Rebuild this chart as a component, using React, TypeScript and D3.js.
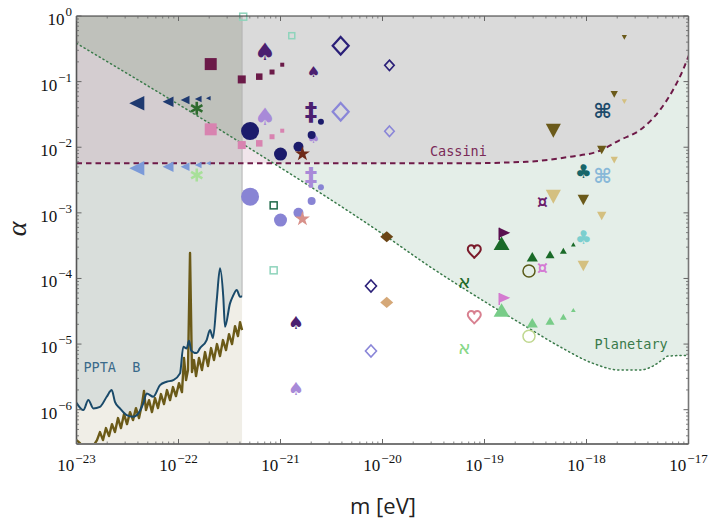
import React from "react";
import * as d3 from "d3";

// ================= DATA =================
// axis ticks (exponents of 10)
const xTickExps = [-23, -22, -21, -20, -19, -18, -17];
const yTickExps = [0, -1, -2, -3, -4, -5, -6];

// curves, stored as [log10(m / eV), log10(alpha)]
const planetaryLog: [number, number][] = [
  [-23, -0.416], [-21.38, -1.941], [-19.959, -3.364], [-19.534, -3.822], [-19.211, -4.146],
  [-18.917, -4.431], [-18.564, -4.761], [-18.26, -5.041], [-17.936, -5.294], [-17.672, -5.396],
  [-17.476, -5.396], [-17.348, -5.335], [-17.25, -5.233], [-17.201, -5.183], [-16.992, -5.172], [-16.9, -5.172],
];
const cassiniLog: [number, number][] = [
  [-23, -2.245], [-19.24, -2.245], [-18.586, -2.221], [-18.162, -2.145], [-17.868, -2.053],
  [-17.672, -1.89], [-17.476, -1.738], [-17.28, -1.433], [-17.152, -1.128], [-17.054, -0.823],
  [-16.995, -0.595], [-16.95, -0.4],
];
const pptaLog: [number, number][] = [
  [-23.0, -5.895], [-22.933, -6.006], [-22.884, -5.854], [-22.835, -5.98], [-22.77, -5.956],
  [-22.704, -5.803], [-22.655, -5.701], [-22.623, -5.88], [-22.574, -5.98], [-22.508, -6.082],
  [-22.443, -6.108], [-22.394, -6.056], [-22.345, -5.904], [-22.312, -5.752], [-22.247, -5.803],
  [-22.181, -5.625], [-22.116, -5.575], [-22.051, -5.549], [-21.985, -5.447], [-21.953, -5.041],
  [-21.92, -5.066], [-21.897, -4.95], [-21.875, -5.1], [-21.822, -5.137], [-21.789, -5.061],
  [-21.724, -4.939], [-21.691, -4.787], [-21.662, -4.909], [-21.625, -4.329], [-21.593, -3.846],
  [-21.561, -4.279], [-21.544, -4.736], [-21.495, -4.38], [-21.466, -4.268], [-21.429, -4.177],
  [-21.397, -4.279], [-21.377, -4.268],
];
const brownLog: [number, number][] = [
  [-23.0, -6.463], [-22.966, -6.509], [-22.917, -6.616], [-22.848, -6.585], [-22.799, -6.463],
  [-22.77, -6.341], [-22.74, -6.463], [-22.711, -6.28], [-22.681, -6.402], [-22.652, -6.22],
  [-22.623, -6.341], [-22.593, -6.128], [-22.564, -6.28], [-22.534, -6.067], [-22.505, -6.22],
  [-22.475, -6.037], [-22.446, -6.159], [-22.417, -5.976], [-22.387, -6.128], [-22.358, -5.915],
  [-22.338, -5.716], [-22.319, -6.006], [-22.289, -5.854], [-22.26, -6.037], [-22.23, -5.823],
  [-22.201, -5.976], [-22.172, -5.762], [-22.142, -5.915], [-22.113, -5.701], [-22.083, -5.854],
  [-22.054, -5.655], [-22.025, -5.793], [-21.995, -5.595], [-21.966, -5.732], [-21.946, -5.213],
  [-21.926, -5.549], [-21.907, -5.396], [-21.887, -3.613], [-21.868, -5.427], [-21.848, -5.244],
  [-21.828, -5.488], [-21.799, -5.213], [-21.77, -5.396], [-21.74, -5.122], [-21.711, -5.335],
  [-21.681, -5.061], [-21.652, -5.244], [-21.623, -5.0], [-21.593, -5.183], [-21.564, -4.939],
  [-21.534, -5.091], [-21.505, -4.848], [-21.475, -5.0], [-21.446, -4.726], [-21.417, -4.878],
  [-21.397, -4.665], [-21.377, -4.787],
];

// markers: masses (eV) and couplings; "dark" = upper series, "light" = lower series
const triLeftM = [3.9e-23, 7.9e-23, 1.16e-22, 1.56e-22, 1.96e-22];
const triLeftDark = [0.0467, 0.0494, 0.0524, 0.0543, 0.0556];
const triLeftLight = [0.00477, 0.00504, 0.00504, 0.00535, 0.00569];

const asteriskM = [1.51e-22];
const asteriskDark = [0.0392];
const asteriskLight = [0.00377];

const squareM = [2.07e-22, 4.17e-22, 6.19e-22, 8.26e-22, 1.04e-21];
const squareDark = [0.185, 0.108, 0.119, 0.14, 0.181];
const squareLight = [0.01875, 0.0108, 0.01146, 0.01445, 0.01786];

const circleM = [5.03e-22, 1.0e-21, 1.5e-21, 2.02e-21, 2.49e-21];
const circleDark = [0.01766, 0.00787, 0.01018, 0.01535, 0.0245];
const circleLight = [0.00176, 0.000776, 0.001, 0.00151, 0.00245];

const spadeM = [7.05e-22, 2.1e-21, 1.41e-21];
const spadeDark = [0.2856, 0.1416, 2.11e-5];
const spadeLight = [0.0292, 0.01396, 2.08e-6];

const daggerM = [1.99e-21];
const daggerDark = [0.0348];
const daggerLight = [0.00355];

const starM = [1.64e-21];
const starDark = [0.00807];
const starLight = [0.000824];

const openSqDarkM = [8.57e-22];
const openSqDark = [0.0013];
const openSqLightM = [4.31e-22, 1.29e-21, 8.57e-22];
const openSqLight = [0.976, 0.501, 0.000133];

const openDiaM = [3.89e-21, 1.17e-20, 7.71e-21];
const openDiaDark = [0.352, 0.177, 7.66e-5];
const openDiaLight = [0.0348, 0.0175, 7.82e-6];

const diaM = [1.1e-20];
const diaDark = [4.32e-4];
const diaLight = [4.32e-5];

const heartM = [7.94e-20];
const heartDark = [2.55e-4];
const heartLight = [2.55e-5];

const alephM = [6.34e-20];
const alephDark = [9.12e-5];
const alephLight = [9.1e-6];

const triDownM = [4.73e-19, 9.31e-19, 1.41e-18, 1.87e-18, 2.35e-18];
const triDownDark = [0.01786, 0.00157, 0.00906, 0.064, 0.473];
const triDownLight = [0.00176, 0.000155, 0.000894, 0.00638, 0.0494];

const cmdM = [1.44e-18];
const cmdDark = [0.036];
const cmdLight = [0.00364];

const clubM = [9.31e-19];
const clubDark = [0.00438];
const clubLight = [0.000432];

const currM = [3.69e-19];
const currDark = [0.00148];
const currLight = [0.000143];

const flagM = [1.56e-19];
const flagDark = [4.87e-4];
const flagLight = [4.97e-5];

const triUpM = [1.47e-19, 2.94e-19, 4.39e-19, 5.93e-19, 7.43e-19];
const triUpDark = [3.43e-4, 2.14e-4, 2.33e-4, 2.64e-4, 3.31e-4];
const triUpLight = [3.3e-5, 2.11e-5, 2.26e-5, 2.61e-5, 3.3e-5];

const openCircM = [2.73e-19];
const openCircDark = [1.3e-4];
const openCircLight = [1.32e-5];

// region boundary of PPTA band (mass)
const pptaEdgeM = 4.2e-22;

// ================= LAYOUT / STYLE =================
const W = 713, H = 519;
const PL = 76.5, PR = 688.5, PT = 16, PB = 444;
const x = d3.scaleLog().domain([1e-23, 1e-17]).range([PL, PR]);
const y = d3.scaleLog().domain([3e-7, 1]).range([PB, PT]);
const P = (lm: number, la: number): [number, number] => [x(Math.pow(10, lm)), y(Math.pow(10, la))];

type Shape =
  | "triLeft" | "triDown" | "triUp" | "square" | "openSquare" | "circle" | "openCircle"
  | "openDiamond" | "diamond" | "star" | "asterisk" | "flag" | "heart" | "glyph";

interface Series {
  shape: Shape;
  m: number[];
  a: number[];
  sizes: number[];
  color: string;
  glyph?: string;
  bold?: boolean;
}

const series: Series[] = [
  { shape: "triLeft", m: triLeftM, a: triLeftDark, sizes: [14.5, 10.5, 8.5, 6.5, 4.5], color: "#1f3a70" },
  { shape: "triLeft", m: triLeftM, a: triLeftLight, sizes: [14.5, 10.5, 8.5, 6.5, 4.5], color: "#7b9ad8" },
  { shape: "asterisk", m: asteriskM, a: asteriskDark, sizes: [13], color: "#2e6b2e" },
  { shape: "asterisk", m: asteriskM, a: asteriskLight, sizes: [13], color: "#a8e09a" },
  { shape: "square", m: squareM, a: squareDark, sizes: [12, 8, 6.5, 5, 4], color: "#6b1a48" },
  { shape: "square", m: squareM, a: squareLight, sizes: [12, 8, 6.5, 5, 4], color: "#d883b0" },
  { shape: "openSquare", m: openSqDarkM, a: openSqDark, sizes: [7], color: "#1f6a4a" },
  { shape: "openSquare", m: openSqLightM, a: openSqLight, sizes: [7, 6, 7], color: "#8fd4bc" },
  { shape: "glyph", glyph: "\u2660", m: spadeM, a: spadeDark, sizes: [24, 15, 18], color: "#4b1f70" },
  { shape: "glyph", glyph: "\u2660", m: spadeM, a: spadeLight, sizes: [24, 15, 18], color: "#a88ad8" },
  { shape: "circle", m: circleM, a: circleDark, sizes: [9, 6.5, 5, 4, 3], color: "#1b1b6b" },
  { shape: "circle", m: circleM, a: circleLight, sizes: [9, 6.5, 5, 4, 3], color: "#8884d4" },
  { shape: "glyph", glyph: "\u2021", m: daggerM, a: daggerDark, sizes: [25], color: "#4b1f70", bold: true },
  { shape: "glyph", glyph: "\u2021", m: daggerM, a: daggerLight, sizes: [25], color: "#a88ad8", bold: true },
  { shape: "star", m: starM, a: starDark, sizes: [15], color: "#6e2a18" },
  { shape: "star", m: starM, a: starLight, sizes: [15], color: "#d8918a" },
  { shape: "openDiamond", m: openDiaM, a: openDiaDark, sizes: [16, 9.5, 11], color: "#2a1f78" },
  { shape: "openDiamond", m: openDiaM, a: openDiaLight, sizes: [16, 9.5, 11], color: "#8a86d8" },
  { shape: "diamond", m: diaM, a: diaDark, sizes: [13], color: "#6b4516" },
  { shape: "diamond", m: diaM, a: diaLight, sizes: [13], color: "#d5a878" },
  { shape: "heart", m: heartM, a: heartDark, sizes: [13], color: "#7a1a2a" },
  { shape: "heart", m: heartM, a: heartLight, sizes: [13], color: "#d88090" },
  { shape: "glyph", glyph: "\u05D0", m: alephM, a: alephDark, sizes: [19], color: "#1f6a28" },
  { shape: "glyph", glyph: "\u05D0", m: alephM, a: alephLight, sizes: [19], color: "#88d888" },
  { shape: "triDown", m: triDownM, a: triDownDark, sizes: [14.5, 11, 9, 7, 5], color: "#6b5a1a" },
  { shape: "triDown", m: triDownM, a: triDownLight, sizes: [14.5, 11, 9, 7, 5], color: "#d4c080" },
  { shape: "glyph", glyph: "\u2318", m: cmdM, a: cmdDark, sizes: [20], color: "#1d4a6b", bold: true },
  { shape: "glyph", glyph: "\u2318", m: cmdM, a: cmdLight, sizes: [20], color: "#88b8d8", bold: true },
  { shape: "glyph", glyph: "\u2663", m: clubM, a: clubDark, sizes: [19], color: "#17666a" },
  { shape: "glyph", glyph: "\u2663", m: clubM, a: clubLight, sizes: [19], color: "#7ccfcf" },
  { shape: "glyph", glyph: "\u00A4", m: currM, a: currDark, sizes: [17], color: "#6a1a6a", bold: true },
  { shape: "glyph", glyph: "\u00A4", m: currM, a: currLight, sizes: [17], color: "#d47ad4", bold: true },
  { shape: "triUp", m: triUpM, a: triUpDark, sizes: [15, 10.5, 8.5, 6.5, 4.5], color: "#1a6a28" },
  { shape: "triUp", m: triUpM, a: triUpLight, sizes: [15, 10.5, 8.5, 6.5, 4.5], color: "#78cc88" },
  { shape: "flag", m: flagM, a: flagDark, sizes: [11], color: "#5a1050" },
  { shape: "flag", m: flagM, a: flagLight, sizes: [11], color: "#d47ad0" },
  { shape: "openCircle", m: openCircM, a: openCircDark, sizes: [6], color: "#5a5a18" },
  { shape: "openCircle", m: openCircM, a: openCircLight, sizes: [6], color: "#c0d890" },
];

function heartPath(cx: number, cy: number, s: number) {
  const p = (u: number, v: number) => `${cx + u * s},${cy + v * s}`;
  return `M${p(0, 0.47)}C${p(-0.12, 0.3)} ${p(-0.5, 0.05)} ${p(-0.5, -0.2)}C${p(-0.5, -0.4)} ${p(-0.35, -0.5)} ${p(-0.24, -0.5)}` +
    `C${p(-0.1, -0.5)} ${p(0, -0.4)} ${p(0, -0.28)}C${p(0, -0.4)} ${p(0.1, -0.5)} ${p(0.24, -0.5)}` +
    `C${p(0.35, -0.5)} ${p(0.5, -0.4)} ${p(0.5, -0.2)}C${p(0.5, 0.05)} ${p(0.12, 0.3)} ${p(0, 0.47)}Z`;
}

function marker(s: Series, cx: number, cy: number, sz: number, key: string) {
  const c = s.color;
  switch (s.shape) {
    case "triLeft":
      return <path key={key} d={`M${cx - 0.52 * sz},${cy}L${cx + 0.52 * sz},${cy - 0.5 * sz}L${cx + 0.52 * sz},${cy + 0.5 * sz}Z`} fill={c} />;
    case "triDown":
      return <path key={key} d={`M${cx - 0.52 * sz},${cy - 0.48 * sz}L${cx + 0.52 * sz},${cy - 0.48 * sz}L${cx},${cy + 0.48 * sz}Z`} fill={c} />;
    case "triUp":
      return <path key={key} d={`M${cx},${cy - 0.45 * sz}L${cx + 0.53 * sz},${cy + 0.45 * sz}L${cx - 0.53 * sz},${cy + 0.45 * sz}Z`} fill={c} />;
    case "square":
      return <rect key={key} x={cx - sz / 2} y={cy - sz / 2} width={sz} height={sz} fill={c} />;
    case "openSquare":
      return <rect key={key} x={cx - sz / 2} y={cy - sz / 2} width={sz} height={sz} fill="none" stroke={c} strokeWidth={1.5} />;
    case "circle":
      return <circle key={key} cx={cx} cy={cy} r={sz} fill={c} />;
    case "openCircle":
      return <circle key={key} cx={cx} cy={cy} r={sz} fill="none" stroke={c} strokeWidth={1.5} />;
    case "openDiamond":
      return <path key={key} d={`M${cx},${cy - 0.55 * sz}L${cx + 0.5 * sz},${cy}L${cx},${cy + 0.55 * sz}L${cx - 0.5 * sz},${cy}Z`} fill="none" stroke={c} strokeWidth={sz > 12 ? 2.2 : 1.6} />;
    case "diamond":
      return <path key={key} d={`M${cx},${cy - 0.43 * sz}L${cx + 0.5 * sz},${cy}L${cx},${cy + 0.43 * sz}L${cx - 0.5 * sz},${cy}Z`} fill={c} />;
    case "heart":
      return <path key={key} d={heartPath(cx, cy, sz)} fill="none" stroke={c} strokeWidth={2} strokeLinejoin="round" />;
    case "star": {
      const r = sz / 1.9;
      const d = d3.symbol(d3.symbolStar, (r * r) / 0.8908130915292852)() as string;
      return <path key={key} d={d} transform={`translate(${cx},${cy + 0.6})`} fill={c} />;
    }
    case "asterisk": {
      const h = sz / 2;
      const lines = [90, 30, -30].map((deg, i) => {
        const t = (deg * Math.PI) / 180;
        return <line key={i} x1={cx - h * Math.cos(t)} y1={cy - h * Math.sin(t)} x2={cx + h * Math.cos(t)} y2={cy + h * Math.sin(t)} stroke={c} strokeWidth={2.6} />;
      });
      return <g key={key}>{lines}</g>;
    }
    case "flag":
      return (
        <g key={key}>
          <path d={`M${cx - 0.45 * sz},${cy - 0.5 * sz}L${cx + 0.55 * sz},${cy - 0.05 * sz}L${cx - 0.45 * sz},${cy + 0.4 * sz}Z`} fill={c} />
          <line x1={cx - 0.45 * sz} y1={cy - 0.5 * sz} x2={cx - 0.45 * sz} y2={cy + 0.6 * sz} stroke={c} strokeWidth={1.5} />
        </g>
      );
    case "glyph":
    default:
      return (
        <text key={key} x={cx} y={cy} fontSize={sz} fill={c} textAnchor="middle" dominantBaseline="central"
          fontFamily="DejaVu Sans" fontWeight={s.bold ? "bold" : "normal"}>{s.glyph}</text>
      );
  }
}

export default function App() {
  const toPx = (arr: [number, number][]) => arr.map(([lm, la]) => P(lm, la));
  const smooth = d3.line().curve(d3.curveMonotoneX);
  const straight = d3.line();

  const planetPx = toPx(planetaryLog);
  const cassPx = toPx(cassiniLog);
  const bluePx = toPx(pptaLog);
  const brownPx = toPx(brownLog);
  const edgeX = x(pptaEdgeM);

  const closeTop = (pts: [number, number][]) =>
    `L${PR + 20},${PT - 20}L${PL - 20},${PT - 20}L${PL - 20},${pts[0][1]}Z`;

  const planetRegion = smooth(planetPx) + closeTop(planetPx);
  const cassRegion = smooth(cassPx) + closeTop(cassPx);
  const blueLine = smooth(bluePx) as string;
  const bandRegion = blueLine + `L${edgeX},${bluePx[bluePx.length - 1][1]}L${edgeX},${PT - 20}L${PL - 20},${PT - 20}L${PL - 20},${bluePx[0][1]}Z`;
  const beigeRegion = blueLine + `L${edgeX},${bluePx[bluePx.length - 1][1]}L${edgeX},${PB + 20}L${PL - 20},${PB + 20}L${PL - 20},${bluePx[0][1]}Z`;

  // ticks
  const xMinor: number[] = [];
  for (let e = -23; e < -17; e++) for (let k = 2; k <= 9; k++) xMinor.push(k * Math.pow(10, e));
  const yMinor: number[] = [];
  for (let e = -7; e < 0; e++) for (let k = 2; k <= 9; k++) {
    const v = k * Math.pow(10, e);
    if (v >= 3e-7 && v < 1) yMinor.push(v);
  }
  const axisColor = "#666";
  const tickEls: React.ReactNode[] = [];
  xTickExps.forEach((e) => {
    const px = x(Math.pow(10, e));
    tickEls.push(<line key={`xb${e}`} x1={px} x2={px} y1={PB} y2={PB - 5} stroke={axisColor} strokeWidth={1} />);
    tickEls.push(<line key={`xt${e}`} x1={px} x2={px} y1={PT} y2={PT + 5} stroke={axisColor} strokeWidth={1} />);
  });
  xMinor.forEach((v, i) => {
    const px = x(v);
    tickEls.push(<line key={`xbm${i}`} x1={px} x2={px} y1={PB} y2={PB - 2.5} stroke={axisColor} strokeWidth={0.8} />);
    tickEls.push(<line key={`xtm${i}`} x1={px} x2={px} y1={PT} y2={PT + 2.5} stroke={axisColor} strokeWidth={0.8} />);
  });
  yTickExps.forEach((e) => {
    const py = y(Math.pow(10, e));
    tickEls.push(<line key={`yl${e}`} x1={PL} x2={PL + 5} y1={py} y2={py} stroke={axisColor} strokeWidth={1} />);
    tickEls.push(<line key={`yr${e}`} x1={PR} x2={PR - 5} y1={py} y2={py} stroke={axisColor} strokeWidth={1} />);
  });
  yMinor.forEach((v, i) => {
    const py = y(v);
    tickEls.push(<line key={`ylm${i}`} x1={PL} x2={PL + 2.5} y1={py} y2={py} stroke={axisColor} strokeWidth={0.8} />);
    tickEls.push(<line key={`yrm${i}`} x1={PR} x2={PR - 2.5} y1={py} y2={py} stroke={axisColor} strokeWidth={0.8} />);
  });

  const labelFont = "Liberation Serif";

  return (
    <svg width={W} height={H} style={{ position: "absolute", left: 0, top: 0, background: "#fff" }}>
      <defs>
        <clipPath id="plotClip"><rect x={PL} y={PT} width={PR - PL} height={PB - PT} /></clipPath>
        <clipPath id="planetClip"><path d={planetRegion} /></clipPath>
        <clipPath id="bandClip"><path d={bandRegion} /></clipPath>
      </defs>
      <rect x={0} y={0} width={W} height={H} fill="#fff" />
      <g clipPath="url(#plotClip)">
        <path d={planetRegion} fill="#e4eee8" />
        <path d={cassRegion} fill="#f1e5eb" />
        <g clipPath="url(#planetClip)"><path d={cassRegion} fill="#dadada" /></g>
        <path d={beigeRegion} fill="#f0eee7" />
        <path d={bandRegion} fill="#d9dedb" />
        <g clipPath="url(#bandClip)"><path d={cassRegion} fill="#d4cdd0" /></g>
        <g clipPath="url(#bandClip)"><g clipPath="url(#planetClip)"><path d={cassRegion} fill="#bfc1bb" /></g></g>
        <line x1={edgeX} x2={edgeX} y1={PT} y2={bluePx[bluePx.length - 1][1]} stroke="#b4b4b4" strokeWidth={1} />
        <path d={smooth(planetPx) as string} fill="none" stroke="#3a7a4a" strokeWidth={1.5} strokeDasharray="1.2,3.2" strokeLinecap="round" />
        <path d={smooth(cassPx) as string} fill="none" stroke="#6e1a48" strokeWidth={2} strokeDasharray="5.5,4" />
        <path d={straight(brownPx) as string} fill="none" stroke="#6b5a18" strokeWidth={2.4} strokeLinejoin="round" />
        <path d={blueLine} fill="none" stroke="#1a4a6a" strokeWidth={2} />
      </g>

      <text x={x(2.92e-20)} y={y(7.34e-3)} fontFamily="DejaVu Sans Mono" fontSize={13.5} fill="#7a2a58">Cassini</text>
      <text x={x(1.2e-18)} y={y(8.5e-6)} fontFamily="DejaVu Sans Mono" fontSize={13.5} fill="#3a7a4a">Planetary</text>
      <text x={x(1.17e-23)} y={y(3.78e-6)} fontFamily="DejaVu Sans Mono" fontSize={13.5} fill="#3a6a8a" style={{ whiteSpace: "pre" }}>{"PPTA  B"}</text>

      {series.map((s, si) => s.m.map((mv, i) => marker(s, x(mv), y(s.a[i]), s.sizes[i], `m${si}_${i}`)))}

      {/* frame */}
      <line x1={PL} x2={PR} y1={PT} y2={PT} stroke="#333" strokeWidth={1} />
      <line x1={PR} x2={PR} y1={PT} y2={PB} stroke="#777" strokeWidth={1.6} />
      <line x1={PL} x2={PL} y1={PT} y2={PB} stroke="#555" strokeWidth={1.6} />
      <line x1={PL} x2={PR} y1={PB} y2={PB} stroke="#777" strokeWidth={1.8} />
      {tickEls}

      {xTickExps.map((e) => (
        <text key={`xl${e}`} x={x(Math.pow(10, e))} y={471} textAnchor="middle" fontFamily={labelFont} fontSize={17} fill="#111">
          10<tspan dy={-8} dx={1} fontSize={13}>{"\u2212" + Math.abs(e)}</tspan>
        </text>
      ))}
      {yTickExps.map((e) => (
        <text key={`yl${e}`} x={72} y={y(Math.pow(10, e)) + 9} textAnchor="end" fontFamily={labelFont} fontSize={17} fill="#111">
          10<tspan dy={-9} dx={1} fontSize={13}>{e === 0 ? "0" : "\u2212" + Math.abs(e)}</tspan>
        </text>
      ))}

      <text x={383} y={514} textAnchor="middle" fontFamily="Open Sans" fontSize={22} fill="#222">m [eV]</text>
      <text transform="translate(26,229) rotate(-90)" textAnchor="middle" fontFamily={labelFont} fontStyle="italic" fontSize={28} fill="#222">α</text>
    </svg>
  );
}
